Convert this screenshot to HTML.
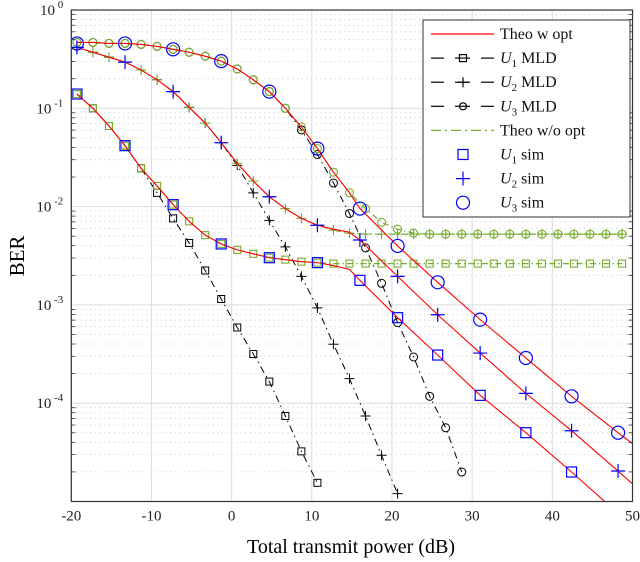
<!DOCTYPE html>
<html><head><meta charset="utf-8"><style>
body{margin:0;background:#fff}
svg{display:block;font-family:"Liberation Serif",serif}
</style></head><body>
<svg id="chart" width="640" height="562" viewBox="0 0 640 562" xmlns="http://www.w3.org/2000/svg">
<rect x="0" y="0" width="640" height="562" fill="#fff"/>
<g id="grid"></g>
<g id="series"></g>
<g id="axes"></g>
<text x="0" y="0" transform="translate(24,256) rotate(-90)" text-anchor="middle" font-size="21">BER</text>
<text x="351" y="553" text-anchor="middle" font-size="20">Total transmit power (dB)</text>
<g id="legend"></g>
</svg>
<script>
const xTicks=[-20,-10,0,10,20,30,40,50];
const yDecades=[0,-1,-2,-3,-4];
const gx=[-19.3,-17.3,-15.3,-13.3,-11.3,-9.3,-7.3,-5.3,-3.3,-1.3,0.7,2.7,4.7,6.7,8.7,10.7,12.7,14.7,16.7,18.7,20.7,22.7,24.7,26.7,28.7,30.7,32.7,34.7,36.7,38.7,40.7,42.7,44.7,46.7,48.7];
const greenU1=[-0.855,-1.0,-1.18,-1.38,-1.61,-1.79,-1.98,-2.15,-2.29,-2.38,-2.44,-2.48,-2.52,-2.54,-2.56,-2.57,-2.58,-2.58,-2.58,-2.58,-2.58,-2.58,-2.58,-2.58,-2.58,-2.58,-2.58,-2.58,-2.58,-2.58,-2.58,-2.58,-2.58,-2.58,-2.58];
const greenU2=[-0.38,-0.43,-0.48,-0.53,-0.61,-0.71,-0.83,-0.99,-1.15,-1.35,-1.56,-1.74,-1.90,-2.02,-2.12,-2.19,-2.24,-2.27,-2.28,-2.28,-2.28,-2.28,-2.28,-2.28,-2.28,-2.28,-2.28,-2.28,-2.28,-2.28,-2.28,-2.28,-2.28,-2.28,-2.28];
const greenU3=[-0.33,-0.33,-0.34,-0.34,-0.35,-0.37,-0.40,-0.43,-0.47,-0.52,-0.60,-0.71,-0.83,-1.0,-1.19,-1.41,-1.65,-1.86,-2.02,-2.16,-2.23,-2.27,-2.28,-2.28,-2.28,-2.28,-2.28,-2.28,-2.28,-2.28,-2.28,-2.28,-2.28,-2.28,-2.28];
const mx1=[-19.3,-17.3,-15.3,-13.3,-11.3,-9.3,-7.3,-5.3,-3.3,-1.3,0.7,2.7,4.7,6.7,8.7,10.7];
const mld1=[-0.855,-1.0,-1.18,-1.38,-1.61,-1.86,-2.12,-2.37,-2.65,-2.94,-3.23,-3.50,-3.78,-4.13,-4.49,-4.81];
const mx2=[-19.3,-17.3,-15.3,-13.3,-11.3,-9.3,-7.3,-5.3,-3.3,-1.3,0.7,2.7,4.7,6.7,8.7,10.7,12.7,14.7,16.7,18.7,20.7];
const mld2=[-0.38,-0.43,-0.48,-0.53,-0.61,-0.71,-0.83,-0.99,-1.15,-1.35,-1.58,-1.86,-2.14,-2.41,-2.71,-3.03,-3.40,-3.75,-4.13,-4.53,-4.92];
const mx3=[-19.3,-17.3,-15.3,-13.3,-11.3,-9.3,-7.3,-5.3,-3.3,-1.3,0.7,2.7,4.7,6.7,8.7,10.7,12.7,14.7,16.7,18.7,20.7,22.7,24.7,26.7,28.7];
const mld3=[-0.33,-0.33,-0.34,-0.34,-0.35,-0.37,-0.40,-0.43,-0.47,-0.52,-0.60,-0.71,-0.83,-1.0,-1.22,-1.47,-1.76,-2.07,-2.42,-2.78,-3.18,-3.53,-3.93,-4.25,-4.70];
const rx=[-19.3,-17.3,-15.3,-13.3,-11.3,-9.3,-7.3,-5.3,-3.3,-1.3,0.7,2.7,4.7,6.7,8.7,10.7,12.7,14.7,16,20.7,25.7,31,36.7,42.4,48.2,50];
const red1=[-0.855,-1.0,-1.18,-1.38,-1.61,-1.79,-1.98,-2.15,-2.29,-2.38,-2.44,-2.48,-2.52,-2.54,-2.56,-2.57,-2.60,-2.64,-2.75,-3.13,-3.51,-3.92,-4.30,-4.70,-5.12,-5.25];
const red2=[-0.38,-0.43,-0.48,-0.53,-0.61,-0.71,-0.83,-0.99,-1.15,-1.35,-1.56,-1.74,-1.90,-2.02,-2.12,-2.19,-2.23,-2.26,-2.34,-2.71,-3.10,-3.49,-3.90,-4.28,-4.69,-4.82];
const red3=[-0.33,-0.33,-0.34,-0.34,-0.35,-0.37,-0.40,-0.43,-0.47,-0.52,-0.60,-0.71,-0.83,-1.0,-1.19,-1.41,-1.65,-1.86,-2.02,-2.40,-2.77,-3.15,-3.54,-3.93,-4.30,-4.41];
const sx=[-19.3,-13.3,-7.3,-1.3,4.7,10.7,16,20.7,25.7,31,36.7,42.4,48.2];
const sim1=[-0.855,-1.38,-1.98,-2.38,-2.52,-2.57,-2.75,-3.13,-3.51,-3.92,-4.30,-4.70,-5.12];
const sim2=[-0.38,-0.53,-0.83,-1.35,-1.90,-2.19,-2.34,-2.71,-3.10,-3.49,-3.90,-4.28,-4.69];
const sim3=[-0.34,-0.34,-0.40,-0.52,-0.83,-1.41,-2.02,-2.40,-2.77,-3.15,-3.54,-3.93,-4.30];

const L=71.3,R=632.5,T=10,B=501.5,xmin=-20,xmax=50,ymax=0,ymin=-5;
const X=v=>L+(v-xmin)/(xmax-xmin)*(R-L);
const Y=v=>T+(ymax-v)/(ymax-ymin)*(B-T);
const NS="http://www.w3.org/2000/svg";
function mk(parent,tag,attrs){const e=document.createElementNS(NS,tag);for(const k in attrs)e.setAttribute(k,attrs[k]);parent.appendChild(e);return e;}
const grid=document.getElementById('grid'),axes=document.getElementById('axes'),ser=document.getElementById('series'),leg=document.getElementById('legend');

// grid
yDecades.forEach(d=>{
  if(d>ymin){for(let m=2;m<=9;m++){const y=Y(d-1+Math.log10(m));
    const g=mk(grid,'line',{x1:L,x2:R,y1:y,y2:y,stroke:'#c8c8c8','stroke-width':0.8,'stroke-dasharray':'1.2,3.5'});
    
    
    for(const xx of [L,R]){const t=mk(axes,'line',{x1:xx,x2:xx+(xx===L?4:-4),y1:y,y2:y,stroke:'#333','stroke-width':0.8});
      
      }
  }}
  const y=Y(d);
  const g=mk(grid,'line',{x1:L,x2:R,y1:y,y2:y,stroke:'#dcdcdc','stroke-width':1});
  
  
  const t=mk(axes,'text',{x:L-8,y:y+5,'text-anchor':'end','font-size':15,fill:'#222'});
  
  
  t.textContent='10';
  const s=mk(t,'tspan',{dy:-7,'font-size':11});s.textContent=' '+d;
});
xTicks.forEach(v=>{
  const x=X(v);
  const g=mk(grid,'line',{x1:x,x2:x,y1:T,y2:B,stroke:'#dcdcdc','stroke-width':1});
  
  
  const t=mk(axes,'text',{x:x,y:B+19,'text-anchor':'middle','font-size':15,fill:'#222'});
  
  
  t.textContent=v;
});
const box=mk(axes,'rect',{x:L,y:T,width:R-L,height:B-T,fill:'none',stroke:'#333','stroke-width':1.2});



const clip=mk(ser,'clipPath',{id:'pc'});mk(clip,'rect',{x:L,y:T,width:R-L,height:B-T});
const cg=mk(ser,'g',{'clip-path':'url(#pc)'});

function marker(g,type,x,y,col,sz,sw){
  let e;
  if(type==='sq')e=mk(g,'rect',{x:x-sz,y:y-sz,width:2*sz,height:2*sz,fill:'none',stroke:col,'stroke-width':sw});
  else if(type==='ci')e=mk(g,'circle',{cx:x,cy:y,r:sz,fill:'none',stroke:col,'stroke-width':sw});
  else e=mk(g,'path',{d:`M${x-sz},${y}H${x+sz}M${x},${y-sz}V${y+sz}`,fill:'none',stroke:col,'stroke-width':sw});
  return e;
}
function line(xs,ys,col,dash,w,name){
  const p=mk(cg,'polyline',{points:xs.map((v,i)=>X(v)+','+Y(ys[i])).join(' '),fill:'none',stroke:col,'stroke-width':w});
  if(dash)p.setAttribute('stroke-dasharray',dash);
  
  
}
function marks(xs,ys,type,col,sz,sw,name){
  const g=mk(cg,'g',{});
  
  
  xs.forEach((v,i)=>{const m=marker(g,type,X(v),Y(ys[i]),col,sz,sw);
    
    });
}
const BL='#000',GR='#77ac30',RD='#ff0000',BU='#0000ff';
const dashMLD='7,4,1.5,4';
line(mx1,mld1,BL,dashMLD,1,'u1-mld-line');marks(mx1,mld1,'sq',BL,3.5,1,'u1-mld-markers');
line(mx2,mld2,BL,dashMLD,1,'u2-mld-line');marks(mx2,mld2,'pl',BL,5,1,'u2-mld-markers');
line(mx3,mld3,BL,dashMLD,1,'u3-mld-line');marks(mx3,mld3,'ci',BL,4,1,'u3-mld-markers');
line(gx,greenU1,GR,'6,3,1.5,3',1.2,'u1-theo-wo-line');marks(gx,greenU1,'sq',GR,3.5,1.1,'u1-theo-wo-markers');
line(gx,greenU2,GR,'6,3,1.5,3',1.2,'u2-theo-wo-line');marks(gx,greenU2,'pl',GR,5,1.1,'u2-theo-wo-markers');
line(gx,greenU3,GR,'6,3,1.5,3',1.2,'u3-theo-wo-line');marks(gx,greenU3,'ci',GR,4,1.1,'u3-theo-wo-markers');
line(rx,red1,RD,null,1.1,'u1-theo-w-opt');
line(rx,red2,RD,null,1.1,'u2-theo-w-opt');
line(rx,red3,RD,null,1.1,'u3-theo-w-opt');
marks(sx,sim1,'sq',BU,5,1.2,'u1-sim');
marks(sx,sim2,'pl',BU,7,1.2,'u2-sim');
marks(sx,sim3,'ci',BU,6.5,1.2,'u3-sim');

// legend
const lb=mk(leg,'rect',{x:423,y:20,width:207,height:197,fill:'#fff',stroke:'#333','stroke-width':1});


const entries=[
 {t:'Theo w opt',c:RD,l:'none',m:null},
 {t:'U|1| MLD',c:BL,l:'dash',m:'sq'},
 {t:'U|2| MLD',c:BL,l:'dash',m:'pl'},
 {t:'U|3| MLD',c:BL,l:'dash',m:'ci'},
 {t:'Theo w/o opt',c:GR,l:'dd',m:null},
 {t:'U|1| sim',c:BU,l:null,m:'sq'},
 {t:'U|2| sim',c:BU,l:null,m:'pl'},
 {t:'U|3| sim',c:BU,l:null,m:'ci'}];
entries.forEach((e,i)=>{
  const y=34+i*24.1;
  const g=mk(leg,'g',{});
  
  
  if(e.l==='none')mk(g,'line',{x1:431,x2:494,y1:y,y2:y,stroke:e.c,'stroke-width':1.2});
  if(e.l==='dash'){mk(g,'line',{x1:431,x2:444,y1:y,y2:y,stroke:e.c,'stroke-width':1.2});
    mk(g,'line',{x1:455,x2:470,y1:y,y2:y,stroke:e.c,'stroke-width':1.2});
    mk(g,'line',{x1:481,x2:494,y1:y,y2:y,stroke:e.c,'stroke-width':1.2});}
  if(e.l==='dd')mk(g,'line',{x1:431,x2:494,y1:y,y2:y,stroke:e.c,'stroke-width':1.2,'stroke-dasharray':'10,4,2,4'});
  if(e.m){const big=e.c===BU;marker(g,e.m,463,y,e.c,big?(e.m==='sq'?5:e.m==='pl'?7:6.5):(e.m==='pl'?5:3.5),1.2);}
  const t=mk(g,'text',{x:500,y:y+5,'font-size':16,fill:'#111'});
  const parts=e.t.split('|');
  if(parts.length===1)t.textContent=e.t;
  else{const a=mk(t,'tspan',{'font-style':'italic'});a.textContent=parts[0];
    const b=mk(t,'tspan',{dy:4,'font-size':11});b.textContent=parts[1];
    const c=mk(t,'tspan',{dy:-4});c.textContent=parts[2];}
});
</script>
</body></html>
